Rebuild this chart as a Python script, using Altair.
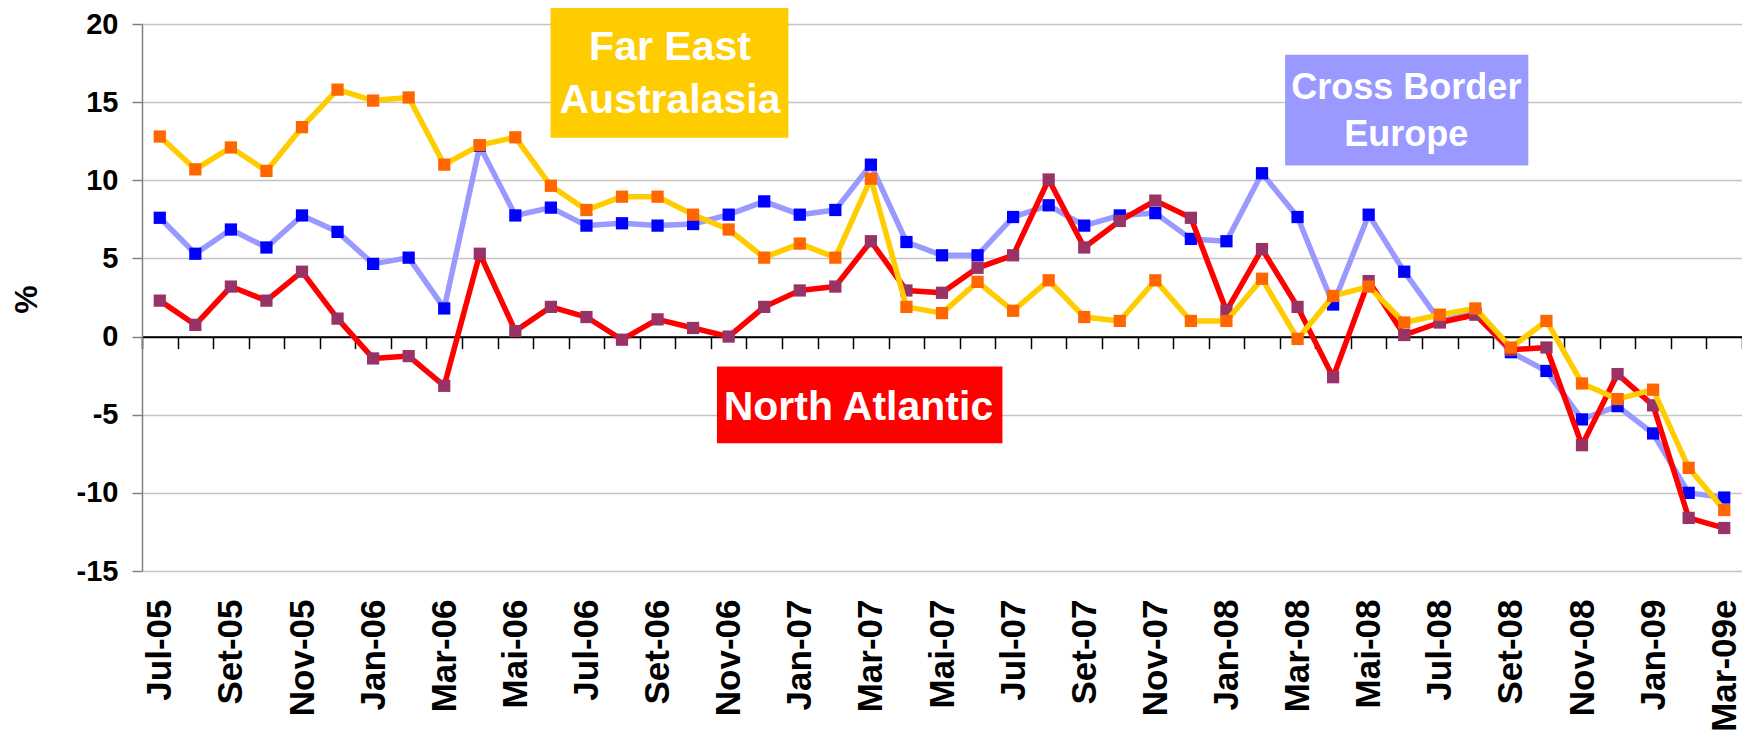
import altair as alt
import pandas as pd

months = ["Jul-05", "Ago-05", "Set-05", "Out-05", "Nov-05", "Dez-05",
          "Jan-06", "Fev-06", "Mar-06", "Abr-06", "Mai-06", "Jun-06",
          "Jul-06", "Ago-06", "Set-06", "Out-06", "Nov-06", "Dez-06",
          "Jan-07", "Fev-07", "Mar-07", "Abr-07", "Mai-07", "Jun-07",
          "Jul-07", "Ago-07", "Set-07", "Out-07", "Nov-07", "Dez-07",
          "Jan-08", "Fev-08", "Mar-08", "Abr-08", "Mai-08", "Jun-08",
          "Jul-08", "Ago-08", "Set-08", "Out-08", "Nov-08", "Dez-08",
          "Jan-09", "Fev-09", "Mar-09e"]

far_east = [12.8, 10.7, 12.1, 10.6, 13.4, 15.8,
            15.1, 15.3, 11.0, 12.25, 12.75, 9.65,
            8.1, 8.95, 8.95, 7.8, 6.85, 5.05,
            5.95, 5.05, 10.1, 1.9, 1.5, 3.5,
            1.65, 3.6, 1.25, 1.0, 3.6, 1.0,
            1.0, 3.7, -0.15, 2.6, 3.2, 0.9,
            1.4, 1.8, -0.7, 1.0, -3.0, -4.0,
            -3.4, -8.4, -11.1]

cross_border = [7.6, 5.3, 6.85, 5.7, 7.75, 6.7,
                4.65, 5.05, 1.8, 12.2, 7.75, 8.25,
                7.1, 7.25, 7.1, 7.2, 7.8, 8.65,
                7.8, 8.1, 11.0, 6.05, 5.2, 5.2,
                7.65, 8.4, 7.1, 7.75, 7.9, 6.25,
                6.1, 10.45, 7.65, 2.05, 7.8, 4.15,
                1.0, 1.5, -1.0, -2.2, -5.3, -4.45,
                -6.2, -10.0, -10.3]

north_atlantic = [2.3, 0.75, 3.2, 2.3, 4.15, 1.15,
                  -1.4, -1.25, -3.15, 5.3, 0.35, 1.9,
                  1.25, -0.2, 1.1, 0.55, 0.0, 1.9,
                  2.95, 3.2, 6.1, 2.95, 2.8, 4.4,
                  5.2, 10.05, 5.7, 7.4, 8.7, 7.6,
                  1.65, 5.6, 1.9, -2.6, 3.55, 0.1,
                  0.9, 1.4, -0.85, -0.7, -6.95, -2.4,
                  -4.4, -11.6, -12.25]

series_names = ["Cross Border Europe", "North Atlantic", "Far East Australasia"]
series_values = [cross_border, north_atlantic, far_east]
line_colors = ["#9999FF", "#FF0000", "#FFCC00"]
marker_colors = ["#0000FF", "#993366", "#FF6600"]

y_ticks = [-15, -10, -5, 0, 5, 10, 15, 20]

# annotation boxes (data units: month index, percent)
box_labels = ["Far East Australasia", "Cross Border Europe", "North Atlantic"]
box_x0 = [10.99, 31.65, 15.67]
box_x1 = [17.68, 38.49, 23.70]
box_y0 = [21.1, 18.03, -1.92]
box_y1 = [12.72, 10.95, -6.82]
box_colors = ["#FFCC00", "#9999FF", "#FF0000"]

text_lines = ["Far East", "Australasia", "Cross Border", "Europe", "North Atlantic"]
text_x = [14.35, 14.35, 35.06, 35.06, 19.65]
text_y = [17.71, 14.28, 15.2, 12.21, -5.31]
text_size = [41, 41, 36, 36, 41]

FONT = "Liberation Sans"
n = len(months)
x_scale = alt.Scale(domain=[-0.5, n - 0.5], nice=False, zero=False)
y_scale = alt.Scale(domain=[-15, 20], nice=False, zero=False)

label_expr = "[" + ",".join("'" + m + "'" for m in months) + "][datum.value]"

label_axis = alt.Axis(
    orient="bottom", values=list(range(0, n, 2)), labelExpr=label_expr,
    labelAngle=270, labelFont=FONT, labelFontWeight="bold", labelFontSize=35,
    labelColor="#000000", labelPadding=28, labelOverlap=False, labelFlush=False,
    ticks=False, tickSize=0, domain=False, grid=False, title=None)

plot_h = 547
tick_axis = alt.Axis(
    orient="bottom", values=[i - 0.5 for i in range(n + 1)], labels=False,
    ticks=True, tickSize=12, tickColor="#000000", tickWidth=1.5,
    domain=True, domainColor="#000000", domainWidth=1.8, grid=False,
    offset=-plot_h * 15 / 35, title=None)

y_axis = alt.Axis(
    values=y_ticks, grid=True, labelExpr="'' + datum.value",
    gridColor={"condition": {"test": "datum.value === 0", "value": "#000000"}, "value": "#C4C4C4"},
    gridWidth=1.3, domainColor="#808080", domainWidth=1.5,
    tickColor="#808080", tickSize=10, tickWidth=1.5,
    labelFont=FONT, labelFontWeight="bold", labelFontSize=29, labelColor="#000000",
    labelPadding=14, title="%", titleFont=FONT, titleFontWeight="bold",
    titleFontSize=32, titleColor="#000000", titleAngle=270, titleX=-116, titleY=275,
    titleAlign="center", titleBaseline="middle")

layers = []
for k, (name, vals) in enumerate(zip(series_names, series_values)):
    df = pd.DataFrame({"idx": list(range(n)), "month": months, "value": vals, "series": name})
    base = alt.Chart(df)
    xa = label_axis if k == 0 else None
    line = base.mark_line(color=line_colors[k], strokeWidth=5.5, strokeJoin="round").encode(
        x=alt.X("idx:Q", scale=x_scale, axis=xa),
        y=alt.Y("value:Q", scale=y_scale, axis=y_axis),
    )
    xb = tick_axis if k == 0 else None
    pts = base.mark_square(color=marker_colors[k], size=150, opacity=1).encode(
        x=alt.X("idx:Q", scale=x_scale, axis=xb),
        y=alt.Y("value:Q", scale=y_scale, axis=y_axis),
    )
    layers += [line, pts]

boxes = pd.DataFrame({"label": box_labels, "x0": box_x0, "x1": box_x1,
                      "y0": box_y0, "y1": box_y1, "color": box_colors})
rects = alt.Chart(boxes).mark_rect(opacity=1).encode(
    x=alt.X("x0:Q", scale=x_scale, axis=None), x2="x1:Q",
    y=alt.Y("y0:Q", scale=y_scale, axis=y_axis), y2="y1:Q",
    color=alt.Color("color:N", scale=None, legend=None),
)

texts = pd.DataFrame({"text": text_lines, "x": text_x, "y": text_y, "fs": text_size})
labels = alt.Chart(texts).mark_text(
    color="#FFFFFF", font=FONT, fontWeight="bold", align="center", baseline="alphabetic"
).encode(
    x=alt.X("x:Q", scale=x_scale, axis=None),
    y=alt.Y("y:Q", scale=y_scale, axis=y_axis),
    text="text:N",
    size=alt.Size("fs:Q", scale=None, legend=None),
)

chart = alt.layer(*layers, rects, labels).resolve_axis(x="independent").properties(
    width=1600, height=plot_h,
    autosize=alt.AutoSizeParams(type="none"),
    padding={"left": 134, "top": 16, "right": 0, "bottom": 163},
    background="#FFFFFF",
).configure_view(stroke=None)

chart.save("out.html", embed_options={"renderer": "svg", "actions": False})
